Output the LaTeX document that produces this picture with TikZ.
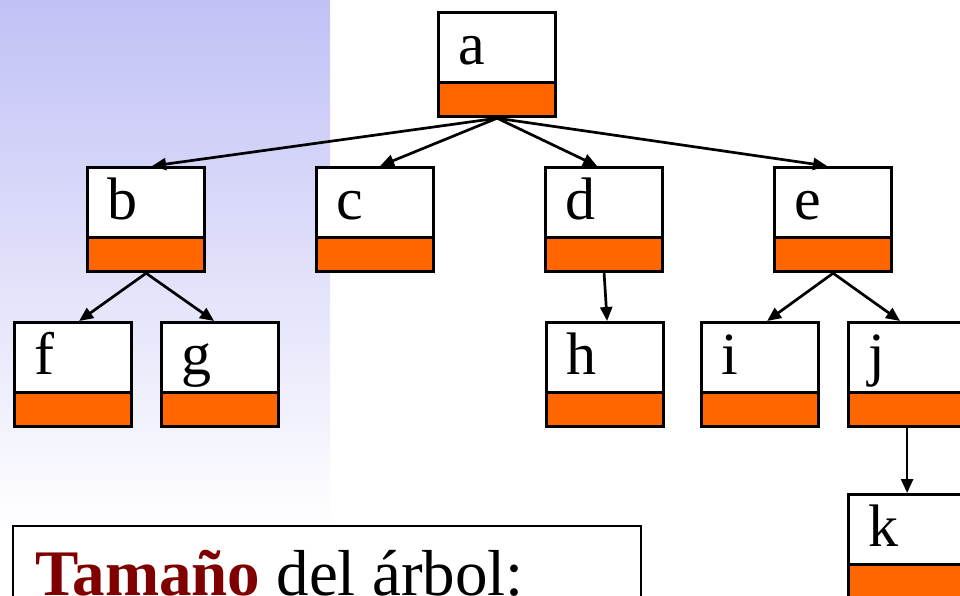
\documentclass[tikz,border=0pt]{standalone}
\usepackage{fontspec}
\setmainfont{Liberation Serif}
\usetikzlibrary{arrows.meta}
\definecolor{boxorange}{RGB}{255,102,0}
\definecolor{titlered}{RGB}{128,0,0}
\definecolor{lavender}{RGB}{193,193,246}
\tikzset{
  treebox/.style={draw, line width=3.2pt, fill=white, anchor=north west,
    minimum width=117pt, minimum height=104pt, inner sep=0pt,
    path picture={
      \fill[boxorange] (path picture bounding box.south west) rectangle ([yshift=34pt]path picture bounding box.south east);
      \draw[line width=3.2pt] ([yshift=34pt]path picture bounding box.south west) -- ([yshift=34pt]path picture bounding box.south east);
    }},
  letter/.style={anchor=base west, inner sep=0pt, font=\fontsize{60}{70}\selectfont},
  link/.style={line width=2.7pt, -{Triangle[length=14pt,width=12pt]}},
}
\begin{document}
\begin{tikzpicture}[x=1pt,y=-1pt]
\path[use as bounding box, clip] (0,0) rectangle (960,595);
\fill[white] (0,0) rectangle (960,595);
\shade[top color=lavender, bottom color=white] (0,0) rectangle (330,530);
% boxes
\node[treebox] (a) at (437,11) {};
\node[treebox] (b) at (86,166) {};
\node[treebox] (c) at (315,166) {};
\node[treebox] (d) at (544,166) {};
\node[treebox] (e) at (773,166) {};
\node[treebox] (f) at (13,321) {};
\node[treebox] (g) at (160,321) {};
\node[treebox] (h) at (545,321) {};
\node[treebox] (i) at (700,321) {};
\node[treebox] (j) at (847,321) {};
\node[treebox] (k) at (847,493) {};
% letters
\foreach \n in {a,b,c,d,e,f,g,h,i,j,k}
  \node[letter] (l\n) at ([xshift=21pt,yshift=-53pt]\n.north west) {\n};
% connectors
\draw[link] (a.south) -- ([xshift=6pt]b.north);
\draw[link] (a.south) -- ([xshift=5pt]c.north);
\draw[link] (a.south) -- ([xshift=-7pt]d.north);
\draw[link] (a.south) -- ([xshift=-6pt]e.north);
\draw[link] (b.south) -- ([xshift=6pt]f.north);
\draw[link] (b.south) -- ([xshift=-6pt]g.north);
\draw[link] (d.south) -- ([xshift=2pt]h.north);
\draw[link] (e.south) -- ([xshift=7pt]i.north);
\draw[link] (e.south) -- ([xshift=-7pt]j.north);
\draw[link] (j.south) -- (k.north);
% caption box
\node[draw, line width=2.2pt, fill=white, anchor=north west, minimum width=628pt, minimum height=100pt, inner sep=0pt] (capbox) at (12,525) {};
\node[anchor=base west, inner sep=0pt, font=\fontsize{65}{75}\selectfont] (cap) at (35,595) {\textbf{\color{titlered}Tamaño} del árbol:};
\end{tikzpicture}
\end{document}
